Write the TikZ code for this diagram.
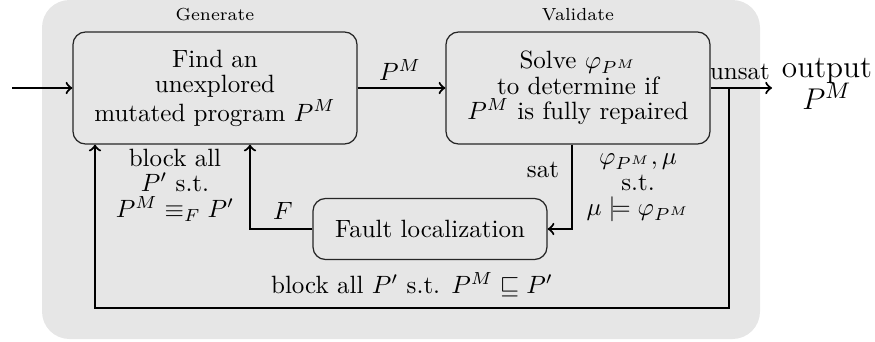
\documentclass[tikz,border=0pt]{standalone}
\usepackage{amsmath,amssymb}
\usetikzlibrary{calc}
\definecolor{panel}{HTML}{E6E6E6}
\tikzset{
  stage/.style={draw=black!85, line width=0.5pt, fill=panel, rounded corners=5pt,
    align=center, font=\fontsize{10}{10.2}\selectfont, inner sep=2pt},
  flow/.style={->, line width=0.85pt, black},
  lbl/.style={align=center, font=\fontsize{10}{10.2}\selectfont, inner sep=0pt},
  tag/.style={font=\fontsize{7}{8}\selectfont, inner sep=0pt},
}
\begin{document}
\begin{tikzpicture}[x=0.4pt, y=-0.4pt]
\useasboundingbox (0,0) rectangle (875,341);
% shaded panel behind the loop
\fill[panel, rounded corners=11pt] (42,0) rectangle (760,339);

% process stages
\node[stage, minimum width=113.6pt, minimum height=44.8pt] (gen) at (215,88)
  {Find an\\unexplored\\mutated program $P^M$};
\node[stage, minimum width=105.6pt, minimum height=44.8pt] (val) at (578,88)
  {Solve $\varphi_{P^M}$\\to determine if\\$P^M$ is fully repaired};
\node[stage, minimum width=93.6pt, minimum height=24.4pt] (fl) at (430,229)
  {Fault localization};

\node[tag] (tgen) at (215,15) {Generate};
\node[tag] (tval) at (578,15) {Validate};

% helper points
\coordinate (in) at (12,88);
\coordinate (out) at (772,88);
\coordinate (split) at (729,88);
\coordinate (loopR) at (729,308);
\coordinate (loopL) at (95,308);
\coordinate (satK) at (572,229);
\coordinate (fK) at (250,229);

% connectors
\draw[flow] (in) -- (gen.west |- in);
\draw[flow] (gen.east) -- (val.west);
\draw[flow] (val.east) -- (out);
\draw[flow] (split) -- (loopR) -- (loopL) -- (loopL |- gen.south);
\draw[flow] (satK |- val.south) -- (satK) -- (fl.east);
\draw[flow] (fl.west) -- (fK) -- (fK |- gen.south);

% labels
\node[lbl] (lpm) at (400,70) {$P^M$};
\node[lbl] (lunsat) at (740,72) {unsat};
\node[lbl, font=\fontsize{12.5}{13}\selectfont] (lout) at (827,84) {output\\$P^M$};
\node[lbl] (lsat) at (543,170) {sat};
\node[lbl] (lmu) at (638,188) {$\varphi_{P^M}, \mu$\\s.t.\\$\mu \models \varphi_{P^M}$};
\node[lbl] (lblk) at (175,185) {block all\\$P'$ s.t.\\$P^M \equiv_F P'$};
\node[lbl] (lF) at (283,211) {$F$};
\node[lbl] (lbot) at (412,285) {block all $P'$ s.t. $P^M \sqsubseteq P'$};
\end{tikzpicture}
\end{document}
